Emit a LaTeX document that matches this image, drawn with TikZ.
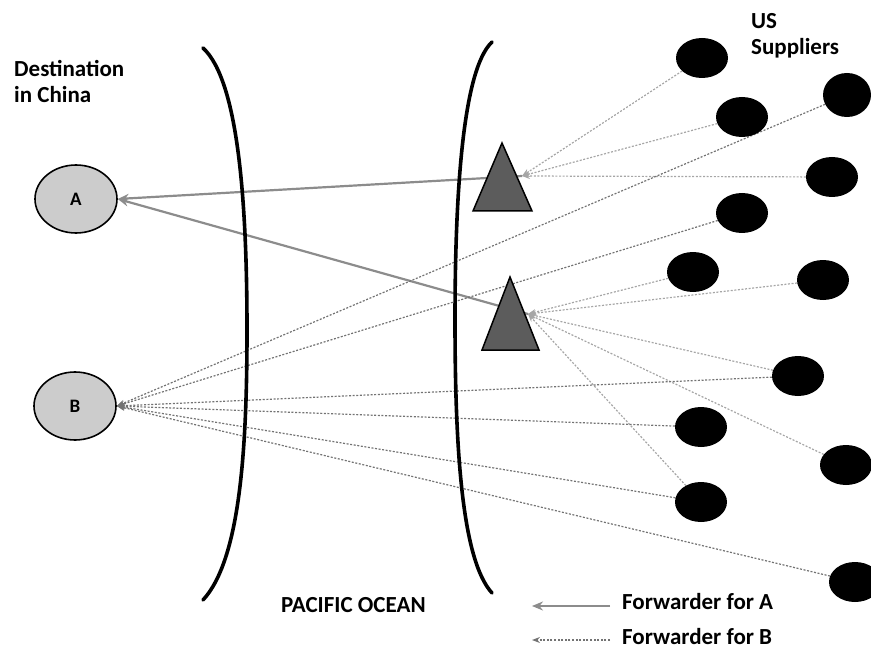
\documentclass[tikz,border=0pt]{standalone}
\usepackage{fontspec}
\setmainfont{Carlito}
\usetikzlibrary{arrows.meta,backgrounds,shapes.geometric}
\begin{document}
\begin{tikzpicture}[x=1pt,y=-1pt,
  lbl/.style={font=\fontsize{23}{26.5}\selectfont\bfseries, inner sep=0pt},
  dest/.style={ellipse, draw=black, line width=1.6pt, fill=black!20, minimum width=82pt, minimum height=68pt, inner sep=0pt, font=\fontsize{19}{21}\selectfont\bfseries},
  supp/.style={ellipse, fill=black, minimum width=52pt, minimum height=40pt, inner sep=0pt},
  tri/.style={draw=black, line width=1.5pt, fill=black!64, line join=miter},
  bracket/.style={line width=3.6pt, line cap=round},
  fwdA/.style={draw=black!45, line width=2.2pt, -{Stealth[length=11pt,width=9pt]}},
  fwdB/.style={draw=black!55, line width=1.2pt, dash pattern=on 2pt off 1.6pt, -{Stealth[length=8pt,width=6pt]}},
  fwdT/.style={draw=black!35, line width=1.2pt, dash pattern=on 2pt off 1.6pt, -{Stealth[length=8pt,width=6pt]}},
]
\useasboundingbox (0,0) rectangle (871,650);

% destinations
\node[dest] (A) at (76,199) {A};
\node[dest] (B) at (75,406) {B};

% suppliers
\node[supp] (S1) at (702,58) {};
\node[supp, minimum width=48pt, minimum height=44pt] (S2) at (847,95) {};
\node[supp] (S3) at (742,117) {};
\node[supp] (S4) at (832,177) {};
\node[supp] (S5) at (742,213) {};
\node[supp] (S6) at (693,272) {};
\node[supp] (S7) at (823,280) {};
\node[supp] (S8) at (798,376) {};
\node[supp] (S9) at (701,427) {};
\node[supp] (S10) at (846,465) {};
\node[supp] (S11) at (701,502) {};
\node[supp] (S12) at (855,582) {};

% forwarder points
\coordinate (c1) at (522,176);
\coordinate (c2) at (528,314);

% brackets (ocean)
\draw[bracket] (203,48) .. controls (238,80) and (247,200) .. (247,330) .. controls (247,450) and (240,560) .. (203,600);
\draw[bracket] (492,42) .. controls (462,70) and (455,200) .. (455,320) .. controls (455,450) and (462,560) .. (492,593);

% forwarder triangles
\draw[tri] (502,143) -- (532,211) -- (473,211) -- cycle;
\draw[tri] (510,277) -- (539,350) -- (482,350) -- cycle;

% connectors
\begin{pgfonlayer}{background}
\draw[fwdA] (c1) -- (A.east);
\draw[fwdA] (c2) -- (A.east);
\foreach \s in {S1,S3,S4} \draw[fwdT] (\s) -- (c1);
\foreach \s in {S6,S7,S8,S10,S11} \draw[fwdT] (\s) -- (c2);
\foreach \s in {S2,S5,S8,S9,S11,S12} \draw[fwdB] (\s) -- (B.east);
\end{pgfonlayer}

% texts
\node[lbl, anchor=north west, align=left] (dest) at (14,60) {Destination\\in China};
\node[lbl, anchor=north west, align=left] (us) at (751,13) {US\\Suppliers};
\node[lbl, anchor=base west] (ocean) at (281,612) {PACIFIC OCEAN};

% legend
\coordinate (la1) at (610,606);
\coordinate (la2) at (532,606);
\coordinate (lb1) at (610,640);
\coordinate (lb2) at (532,640);
\draw[fwdA, line width=1.6pt] (la1) -- (la2);
\draw[fwdB] (lb1) -- (lb2);
\node[lbl, anchor=base west] (legA) at (622,609) {Forwarder for A};
\node[lbl, anchor=base west] (legB) at (622,644) {Forwarder for B};
\end{tikzpicture}
\end{document}
